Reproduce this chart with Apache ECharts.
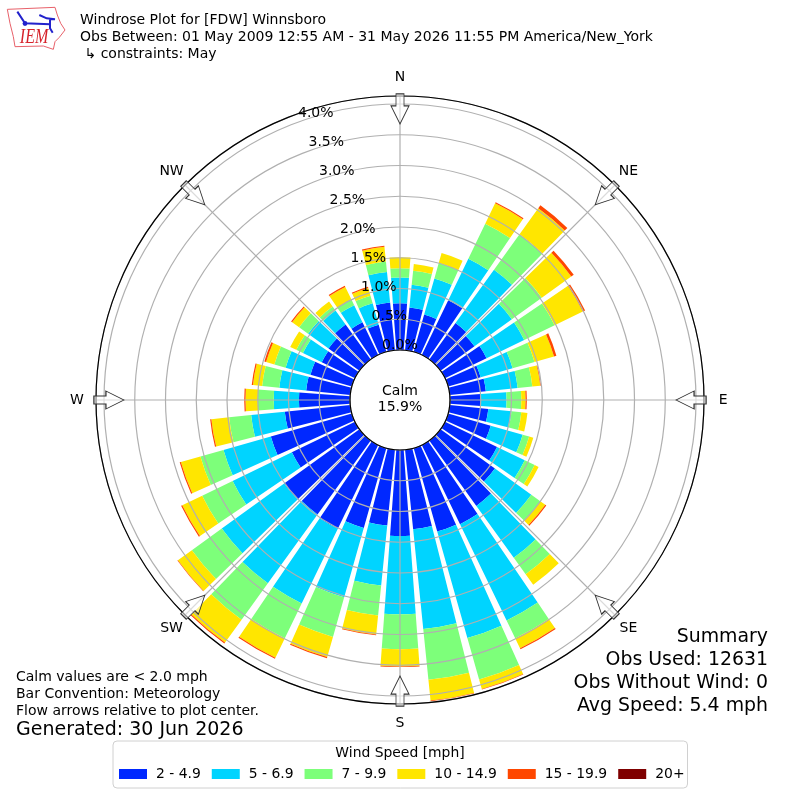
<!DOCTYPE html>
<html>
<head>
<meta charset="utf-8">
<style>html,body{margin:0;padding:0;background:#fff}#c{width:800px;height:800px}</style>
<script src="https://cdn.jsdelivr.net/npm/echarts@6/dist/echarts.min.js"></script>
</head>
<body>
<div id="c"></div>
<script>
const directions = ['0','10','20','30','40','50','60','70','80','90','100','110','120','130','140','150','160','170','180','190','200','210','220','230','240','250','260','270','280','290','300','310','320','330','340','350'];
const speedBins = ['2 - 4.9','5 - 6.9','7 - 9.9','10 - 14.9','15 - 19.9','20+'];
const s2to5 = [0.76,0.70,0.63,0.99,0.73,0.68,0.75,0.55,0.59,0.50,0.63,0.72,0.94,1.09,1.31,1.43,1.41,1.30,1.40,1.24,1.35,1.51,1.48,1.51,1.14,1.37,1.07,0.83,0.72,0.70,0.60,0.62,0.70,0.59,0.46,0.78];
const s5to7 = [0.42,0.37,0.61,0.75,1.07,0.75,0.68,0.54,0.52,0.42,0.38,0.54,0.50,0.73,1.04,1.74,1.80,1.63,1.27,0.98,1.17,1.35,1.38,1.25,1.07,0.80,0.55,0.41,0.44,0.42,0.34,0.41,0.28,0.31,0.36,0.50];
const s7to10 = [0.15,0.23,0.26,0.63,0.71,0.60,0.55,0.37,0.24,0.24,0.16,0.11,0.18,0.18,0.33,0.32,0.70,0.83,0.57,0.49,0.67,0.63,0.73,0.60,0.55,0.39,0.36,0.26,0.28,0.19,0.12,0.18,0.08,0.10,0.13,0.17];
const s10to15 = [0.18,0.11,0.17,0.37,0.52,0.59,0.51,0.33,0.13,0.07,0.10,0.07,0.07,0.10,0.21,0.18,0.16,0.34,0.28,0.31,0.34,0.35,0.46,0.28,0.36,0.33,0.29,0.20,0.15,0.14,0.11,0.14,0.10,0.23,0.13,0.24];
const s15to20 = [0,0,0,0.02,0.06,0.05,0.04,0.04,0.01,0.02,0,0,0,0.02,0,0.02,0.01,0.01,0.01,0.01,0.02,0.02,0.02,0.01,0.02,0.02,0.02,0.02,0.02,0.03,0,0.02,0,0.02,0.02,0.02];
const s20plus = [0,0,0,0,0,0,0,0,0,0,0,0,0,0,0,0,0,0,0,0,0,0,0,0,0,0,0,0,0,0,0,0,0,0,0,0];
const compassNames = ['N','NE','E','SE','S','SW','W','NW'];
const compassAngles = [0,45,90,135,180,225,270,315];
const radiusTicks = [0,0.5,1,1.5,2,2.5,3,3.5,4];

const speedValues = [s2to5,s5to7,s7to10,s10to15,s15to20,s20plus];
const colors = ['#0028ff','#00d4ff','#7dff7a','#ffe600','#ff4700','#7f0000'];
const FONT = 'DejaVu Sans';
const R_MAX = 4.13, ARROW_AT = 3.92, NAME_AT = 4.44, TICK_LABEL_ANGLE = 340;
const GRID = '#b0b0b0';
const ARROW = 'path://M5 0 H13 V12 H18 L9 30 L0 12 H5 Z';

function txt(x, y, text, size, align, extra, props) {
  return Object.assign({type:'text', x, y, z:50, silent:true, style:Object.assign({
    text, fontFamily:FONT, fontSize:size, fill:'#000', align:align||'left', verticalAlign:'middle'
  }, extra||{})}, props||{});
}
const pts = a => a.map(p => [p[0]/3, p[1]/3]);

const barSeries = speedBins.map((name,i) => ({
  name, type:'bar', coordinateSystem:'polar', polarIndex:0, stack:'w',
  barWidth:'84%', z:2, silent:true, data:speedValues[i],
  itemStyle:{color:colors[i]}
}));

const option = {
  animation:false,
  backgroundColor:'#fff',
  textStyle:{fontFamily:FONT},
  polar:[
    {center:[400,400], radius:[50,304]},
    {center:[400,400], radius:[50,304]}
  ],
  angleAxis:[
    {polarIndex:0, type:'category', data:directions, startAngle:95, z:1,
     axisLine:{show:false}, axisTick:{show:false}, axisLabel:{show:false}, splitLine:{show:false}},
    {polarIndex:1, type:'value', min:0, max:360, interval:45, startAngle:90, z:6,
     axisLine:{show:true, lineStyle:{color:'#000', width:1.2}},
     axisTick:{show:false}, axisLabel:{show:false},
     splitLine:{show:true, lineStyle:{color:GRID, width:1.2}}}
  ],
  radiusAxis:[
    {polarIndex:0, min:0, max:R_MAX, z:1, axisLine:{show:false}, axisTick:{show:false}, axisLabel:{show:false}, splitLine:{show:false}},
    {polarIndex:1, min:0, max:R_MAX, interval:0.5, z:5, axisLine:{show:false}, axisTick:{show:false}, axisLabel:{show:false},
     splitLine:{show:true, lineStyle:{color:GRID, width:1.2}}}
  ],
  legend:{
    data:speedBins, left:113, top:741, orient:'horizontal', selectedMode:false,
    icon:'rect', itemWidth:28, itemHeight:10, itemGap:11,
    padding:[26,3,7,6], borderColor:'#d0d0d0', borderWidth:1, borderRadius:4, backgroundColor:'#fff',
    textStyle:{fontFamily:FONT, fontSize:13.9, color:'#000', padding:[0,0,0,4]}
  },
  series:barSeries.concat([
    {type:'scatter', coordinateSystem:'polar', polarIndex:1, clip:false, silent:true, z:8,
     symbol:ARROW, symbolSize:[18,30], symbolKeepAspect:false,
     symbolRotate:(v)=>-v[1],
     itemStyle:{color:'rgba(255,255,255,0.55)', borderColor:'#333', borderWidth:1, opacity:1},
     data:compassAngles.map(a=>[ARROW_AT,a])},
    {type:'scatter', coordinateSystem:'polar', polarIndex:1, clip:false, silent:true, z:9,
     symbolSize:1, itemStyle:{color:'rgba(0,0,0,0)', opacity:1},
     label:{show:true, opacity:1, position:'inside', fontFamily:FONT, fontSize:14, color:'#000',
            formatter:p=>compassNames[p.dataIndex]},
     data:compassAngles.map(a=>[NAME_AT,a])},
    {type:'scatter', coordinateSystem:'polar', polarIndex:1, clip:false, silent:true, z:9,
     symbolSize:1, itemStyle:{color:'rgba(0,0,0,0)', opacity:1},
     label:{show:true, opacity:1, position:'inside', offset:[17,-8], fontFamily:FONT, fontSize:14, color:'#000',
            formatter:p=>p.value[0].toFixed(1)+'%'},
     data:radiusTicks.map(v=>[v,TICK_LABEL_ANGLE])}
  ]),
  graphic:{elements:[
    txt(80,20,'Windrose Plot for [FDW] Winnsboro',14),
    txt(80,37,'Obs Between: 01 May 2009 12:55 AM - 31 May 2026 11:55 PM America/New_York',14),
    txt(80,54,' ↳ constraints: May',14),
    txt(400,391,'Calm',14,'center'),
    txt(400,407,'15.9%',14,'center'),
    txt(768,637,'Summary',18.9,'right'),
    txt(768,660,'Obs Used: 12631',18.9,'right'),
    txt(768,683,'Obs Without Wind: 0',18.9,'right'),
    txt(768,706,'Avg Speed: 5.4 mph',18.9,'right'),
    txt(16,677,'Calm values are < 2.0 mph',14),
    txt(16,694,'Bar Convention: Meteorology',14),
    txt(16,711,'Flow arrows relative to plot center.',14),
    txt(16,730,'Generated: 30 Jun 2026',19),
    txt(400,753,'Wind Speed [mph]',13.9,'center'),
    {type:'polygon', z:50, silent:true, shape:{points:pts([[22,28],[165,22],[172,45],[182,70],[195,90],[178,112],[165,125],[160,148],[130,138],[45,140],[40,110],[30,70]])},
     style:{fill:'none', stroke:'#e8616a', lineWidth:1}},
    {type:'polyline', z:51, silent:true, shape:{points:pts([[52,35],[75,70],[150,73]])}, style:{fill:'none', stroke:'#2222cc', lineWidth:2}},
    {type:'polyline', z:51, silent:true, shape:{points:pts([[118,45],[140,55],[165,58],[150,58],[150,85],[158,98]])}, style:{fill:'none', stroke:'#2222cc', lineWidth:2}},
    {type:'circle', z:51, silent:true, shape:{cx:25,cy:23.5,r:2.4}, style:{fill:'#2222cc'}},
    txt(16.5,38,'IEM',20,'left',{fontFamily:'Liberation Serif', fontStyle:'italic', fill:'#d6232b'},{scaleX:0.8,originX:16.5,originY:38})
  ]}
};
echarts.init(document.getElementById('c'),null,{renderer:'canvas'}).setOption(option);
</script>
</body>
</html>
